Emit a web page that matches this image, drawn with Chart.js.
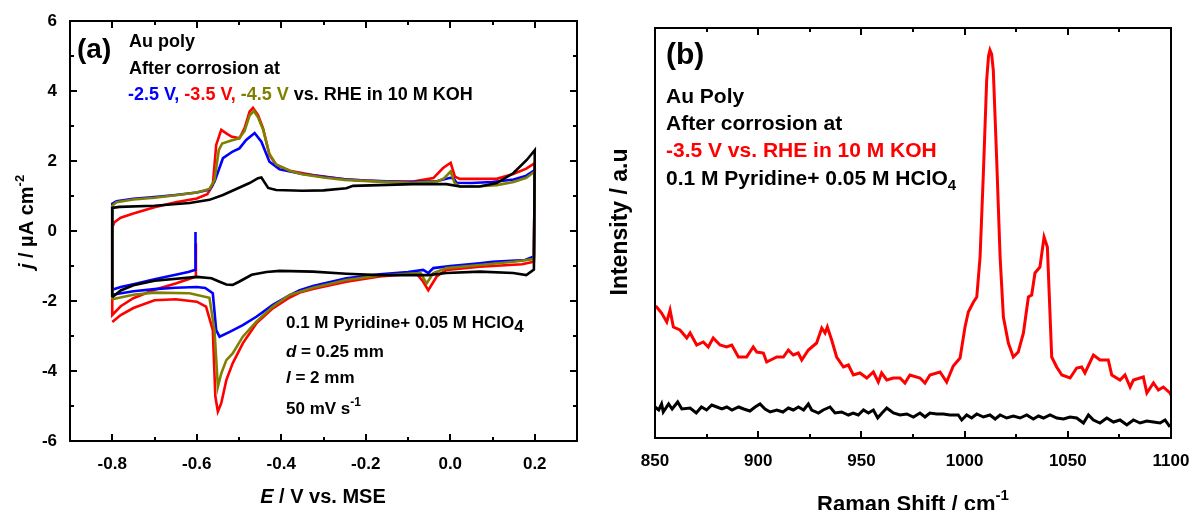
<!DOCTYPE html>
<html lang="en">
<head>
  <meta charset="UTF-8">
  <title>Au poly after corrosion: CV and Raman</title>
  <script src="https://cdn.jsdelivr.net/npm/chart.js"></script>
  <style>
    body { margin: 0; background: #fff; }
    .panel { position: absolute; top: 0; width: 596px; height: 510px; }
    #boxA { left: 0; }
    #boxB { left: 596px; }
  </style>
</head>
<body>
  <div class="panel" id="boxA"><canvas id="cvChart"></canvas></div>
  <div class="panel" id="boxB"><canvas id="ramanChart"></canvas></div>

  <script>
    const FONT = "'Liberation Sans', Arial, Helvetica, sans-serif";

    // (a) cyclic voltammograms, [E / V vs. MSE, j / uA cm-2], in sweep order
    const cvRed = [
      [-0.602, -0.35], [-0.602, -1.3], [-0.62, -1.38], [-0.65, -1.5], [-0.7, -1.68], [-0.75, -1.92], [-0.78, -2.15], [-0.8, -2.4],
      [-0.8, 0.1], [-0.795, 0.25], [-0.78, 0.38], [-0.75, 0.5], [-0.7, 0.68], [-0.65, 0.82], [-0.6, 0.93], [-0.575, 1.05],
      [-0.562, 1.31], [-0.554, 2.46], [-0.542, 2.89], [-0.53, 2.79], [-0.518, 2.7], [-0.499, 2.65], [-0.487, 2.93], [-0.475, 3.41],
      [-0.467, 3.52], [-0.455, 3.31], [-0.443, 2.93], [-0.428, 2.17], [-0.412, 1.89], [-0.38, 1.72], [-0.325, 1.6], [-0.246, 1.47],
      [-0.167, 1.42], [-0.088, 1.41], [-0.04, 1.51], [-0.017, 1.8], [0.001, 1.95], [0.011, 1.55], [0.023, 1.49], [0.11, 1.49],
      [0.149, 1.63], [0.18, 1.78], [0.2, 1.94],
      [0.198, -0.88], [0.17, -0.95], [0.07, -1.02], [-0.009, -1.11], [-0.032, -1.3], [-0.052, -1.69], [-0.064, -1.45], [-0.08, -1.21],
      [-0.167, -1.3], [-0.246, -1.45], [-0.325, -1.66], [-0.356, -1.76], [-0.38, -1.9], [-0.42, -2.21], [-0.459, -2.64], [-0.491, -3.21],
      [-0.515, -3.78], [-0.53, -4.26], [-0.542, -4.92], [-0.55, -5.16], [-0.556, -4.73], [-0.562, -2.83], [-0.578, -2.16], [-0.6, -2.02],
      [-0.65, -1.95], [-0.7, -1.98], [-0.75, -2.2], [-0.78, -2.4], [-0.8, -2.6]
    ];
    const cvBlue = [
      [-0.603, -0.03], [-0.603, -1.11], [-0.62, -1.17], [-0.65, -1.25], [-0.7, -1.38], [-0.75, -1.52], [-0.78, -1.6], [-0.8, -1.68],
      [-0.8, 0.78], [-0.79, 0.85], [-0.75, 0.92], [-0.7, 0.97], [-0.65, 1.03], [-0.6, 1.1], [-0.57, 1.18], [-0.558, 1.41],
      [-0.538, 2.08], [-0.515, 2.27], [-0.499, 2.36], [-0.483, 2.6], [-0.463, 2.8], [-0.447, 2.55], [-0.428, 1.98], [-0.404, 1.76],
      [-0.35, 1.63], [-0.3, 1.55], [-0.25, 1.48], [-0.2, 1.44], [-0.1, 1.4], [-0.03, 1.43], [0.0, 1.52], [0.008, 1.5],
      [0.015, 1.38], [0.05, 1.37], [0.1, 1.4], [0.15, 1.47], [0.18, 1.58], [0.2, 1.74],
      [0.198, -0.73], [0.177, -0.83], [0.1, -0.88], [0.07, -0.92], [0.0, -1.0], [-0.04, -1.06], [-0.052, -1.2], [-0.064, -1.11],
      [-0.1, -1.17], [-0.167, -1.24], [-0.246, -1.35], [-0.325, -1.57], [-0.356, -1.69], [-0.38, -1.83], [-0.42, -2.11], [-0.459, -2.45],
      [-0.491, -2.69], [-0.522, -2.88], [-0.546, -3.02], [-0.554, -2.83], [-0.562, -1.78], [-0.58, -1.63], [-0.6, -1.6], [-0.65, -1.62],
      [-0.7, -1.66], [-0.75, -1.72], [-0.8, -1.82]
    ];
    const cvOlive = [
      [-0.8, -1.95], [-0.8, 0.72], [-0.79, 0.82], [-0.75, 0.9], [-0.7, 0.95], [-0.65, 1.02], [-0.6, 1.1], [-0.57, 1.2],
      [-0.558, 1.45], [-0.548, 2.3], [-0.54, 2.5], [-0.52, 2.58], [-0.5, 2.65], [-0.487, 2.85], [-0.475, 3.3], [-0.465, 3.43],
      [-0.455, 3.25], [-0.443, 2.9], [-0.428, 2.2], [-0.412, 1.9], [-0.38, 1.72], [-0.35, 1.62], [-0.3, 1.53], [-0.25, 1.46],
      [-0.17, 1.41], [-0.09, 1.38], [-0.03, 1.42], [-0.015, 1.5], [0.001, 1.7], [0.01, 1.38], [0.023, 1.27], [0.07, 1.28],
      [0.11, 1.31], [0.15, 1.4], [0.18, 1.52], [0.2, 1.7],
      [0.198, -0.8], [0.15, -0.88], [0.07, -0.97], [-0.009, -1.06], [-0.04, -1.2], [-0.056, -1.5], [-0.07, -1.2], [-0.1, -1.22],
      [-0.167, -1.27], [-0.246, -1.4], [-0.325, -1.62], [-0.38, -1.83], [-0.42, -2.16], [-0.459, -2.59], [-0.491, -3.02], [-0.515, -3.5],
      [-0.53, -3.69], [-0.542, -4.07], [-0.55, -4.45], [-0.558, -2.83], [-0.57, -1.91], [-0.617, -1.78], [-0.7, -1.76], [-0.75, -1.82],
      [-0.8, -1.95]
    ];
    const cvBlack = [
      [-0.8, -1.89], [-0.8, 0.66], [-0.783, 0.69], [-0.7, 0.72], [-0.617, 0.8], [-0.57, 0.89], [-0.538, 1.03], [-0.475, 1.37],
      [-0.455, 1.51], [-0.447, 1.53], [-0.431, 1.23], [-0.412, 1.17], [-0.35, 1.15], [-0.3, 1.16], [-0.246, 1.22], [-0.23, 1.29],
      [-0.088, 1.34], [-0.009, 1.34], [0.023, 1.27], [0.07, 1.27], [0.11, 1.37], [0.149, 1.65], [0.181, 2.03], [0.2, 2.31],
      [0.198, -1.1], [0.18, -1.26], [0.149, -1.2], [0.07, -1.16], [-0.009, -1.2], [-0.052, -1.26], [-0.167, -1.26], [-0.246, -1.22],
      [-0.325, -1.16], [-0.404, -1.14], [-0.435, -1.17], [-0.47, -1.25], [-0.5, -1.45], [-0.515, -1.54], [-0.53, -1.53], [-0.546, -1.45],
      [-0.565, -1.35], [-0.6, -1.31], [-0.7, -1.42], [-0.75, -1.55], [-0.78, -1.7], [-0.8, -1.89]
    ];
    const cvTicksX = [-0.8, -0.6, -0.4, -0.2, 0.0, 0.2];
    const cvMinorX = [-0.7, -0.5, -0.3, -0.1, 0.1];
    const cvTicksY = [-6, -4, -2, 0, 2, 4, 6];
    const cvMinorY = [-5, -3, -1, 1, 3, 5];

    // (b) Raman spectra, [shift / cm-1, intensity / a.u.]
    const ramanRed = [
      [850, 130], [850.8, 131], [853.2, 125], [855.7, 116], [857.3, 128], [858.9, 111], [862.1, 108], [865.4, 100],
      [867, 105], [870.2, 93], [873.4, 96], [875.8, 91], [878.2, 100], [881.5, 93], [884.7, 91], [887.2, 93],
      [890.4, 81], [894.4, 81], [897.6, 91], [899.3, 86], [902.5, 85], [904.1, 76], [909, 81], [912.2, 81],
      [914.6, 88], [917, 83], [919.4, 85], [921.1, 78], [924.3, 88], [928.3, 95], [930.8, 110], [932.4, 105],
      [933.5, 111], [935.6, 98], [938, 81], [941.3, 71], [943.7, 73], [946.1, 63], [949.3, 65], [952.6, 60],
      [955.8, 66], [958.2, 56], [959.8, 65], [962.3, 58], [965.5, 60], [968.7, 60], [971.1, 55], [973.5, 63],
      [978.4, 60], [980.8, 55], [983.2, 63], [988.1, 66], [991.3, 56], [994.5, 72], [997.8, 80], [1000.2, 111],
      [1001.8, 126], [1004.3, 136], [1005.9, 141], [1007.5, 181], [1009.1, 265], [1010.7, 358], [1011.6, 382], [1012.3, 388],
      [1013.1, 384], [1013.9, 368], [1015.5, 281], [1017.2, 181], [1018.8, 121], [1021.2, 95], [1023.6, 81], [1026, 86],
      [1028.5, 105], [1030.9, 141], [1032.5, 143], [1034.1, 165], [1036.5, 171], [1038.5, 201], [1040.1, 191], [1042.2, 81],
      [1044.6, 71], [1047.1, 63], [1051.1, 60], [1054.3, 70], [1056.7, 71], [1058.3, 65], [1062.4, 83], [1065.6, 78],
      [1069.6, 78], [1071.3, 63], [1075.3, 58], [1077.7, 63], [1080.2, 51], [1081.8, 58], [1086.6, 61], [1088.3, 45],
      [1091.5, 55], [1093.9, 48], [1096.3, 51], [1099.5, 45], [1100, 43]
    ];
    const ramanBlack = [
      [850, 31], [851.8, 28], [853.2, 34], [854, 26], [856.6, 34], [858.3, 29], [861, 36], [863, 29],
      [867, 30], [870, 25], [872.5, 31], [875, 28], [877.5, 33], [880, 31], [882.4, 29], [884.8, 31],
      [887.3, 28], [890.5, 31], [893, 29], [896, 27], [898.5, 31], [900.9, 34], [903.3, 29], [905.8, 26],
      [909, 28], [912, 26], [914.6, 30], [917, 28], [919.5, 31], [922, 28], [924.3, 34], [925.9, 28],
      [929.2, 25], [931.5, 28], [934.8, 31], [937.2, 25], [940.4, 26], [943.7, 23], [946, 25], [948.5, 23],
      [951, 28], [953.4, 25], [955.8, 28], [957.9, 20], [960, 25], [962.3, 30], [965.5, 25], [968.7, 23],
      [972, 24], [975.2, 21], [978.4, 25], [980.8, 21], [983.2, 25], [986.5, 24], [989.7, 24], [992.9, 23],
      [996.9, 23], [998.6, 18], [1001, 23], [1003.4, 20], [1005.9, 24], [1009.1, 21], [1012.3, 23], [1014.8, 19],
      [1017.2, 23], [1020.4, 20], [1023.6, 22], [1026.9, 20], [1030.1, 23], [1033.3, 19], [1035.8, 22], [1038.2, 20],
      [1041.4, 23], [1044.7, 20], [1047.9, 19], [1051.1, 21], [1054.3, 20], [1057.6, 15], [1060, 23], [1062.4, 18],
      [1065.6, 15], [1068.9, 20], [1072.1, 16], [1075.3, 18], [1078.6, 13], [1081.8, 18], [1085, 15], [1088.3, 17],
      [1091.5, 16], [1094.7, 15], [1097.1, 18], [1099.5, 11]
    ];
    const ramanTicksX = [850, 900, 950, 1000, 1050, 1100];
    const ramanMinorX = [875, 925, 975, 1025, 1075];

    const toXY = arr => arr.map(p => ({ x: p[0], y: p[1] }));

    // draws consecutive text pieces with their own font / colour / shift
    function drawRuns(ctx, x, y, runs) {
      runs.forEach(r => {
        ctx.font = r.f;
        ctx.fillStyle = r.c || '#000';
        ctx.fillText(r.t, x, y + (r.dy || 0));
        x += ctx.measureText(r.t).width;
      });
    }
    function runsWidth(ctx, runs) {
      let w = 0;
      runs.forEach(r => { ctx.font = r.f; w += ctx.measureText(r.t).width; });
      return w;
    }
    function drawCentered(ctx, cx, y, runs, rotate) {
      ctx.save();
      const w = runsWidth(ctx, runs);
      if (rotate) {
        ctx.translate(cx, y);
        ctx.rotate(-Math.PI / 2);
        drawRuns(ctx, -w / 2, 0, runs);
      } else {
        drawRuns(ctx, cx - w / 2, y, runs);
      }
      ctx.restore();
    }

    // box around the plot with inward ticks on all four sides
    function drawFrame(chart, majX, minX, majY, minY) {
      const { ctx, chartArea: a } = chart;
      const sx = chart.scales.x, sy = chart.scales.y;
      ctx.save();
      ctx.strokeStyle = '#000';
      ctx.lineWidth = 2;
      ctx.beginPath();
      const ticksX = (vals, len) => vals.forEach(v => {
        const p = Math.round(sx.getPixelForValue(v));
        ctx.moveTo(p, a.bottom); ctx.lineTo(p, a.bottom - len);
        ctx.moveTo(p, a.top); ctx.lineTo(p, a.top + len);
      });
      const ticksY = (vals, len) => vals.forEach(v => {
        const p = Math.round(sy.getPixelForValue(v));
        ctx.moveTo(a.left, p); ctx.lineTo(a.left + len, p);
        ctx.moveTo(a.right, p); ctx.lineTo(a.right - len, p);
      });
      ticksX(majX, 7); ticksX(minX, 4);
      ticksY(majY, 7); ticksY(minY, 4);
      ctx.stroke();
      ctx.strokeRect(a.left, a.top, a.right - a.left, a.bottom - a.top);
      ctx.restore();
    }

    const B = s => `bold ${s}px ${FONT}`;
    const BI = s => `italic bold ${s}px ${FONT}`;
    const BLUE = '#0000ff', RED = '#ff0000', OLIVE = '#808000';

    function curve(data, color, width) {
      return {
        data: toXY(data), borderColor: color, backgroundColor: color,
        showLine: true, pointRadius: 0, borderWidth: width, tension: 0
      };
    }

    // keep the plot box where it is: no extra room for edge labels
    const noEdgePadding = s => { s.paddingLeft = 0; s.paddingRight = 0; s.paddingTop = 0; s.paddingBottom = 0; };

    // (a) cyclic voltammetry
    new Chart(document.getElementById('cvChart'), {
      type: 'scatter',
      data: {
        datasets: [curve(cvBlack, '#000', 2.6), curve(cvOlive, OLIVE, 2.6), curve(cvBlue, BLUE, 2.6), curve(cvRed, RED, 2.6)]
      },
      options: {
        responsive: true,
        maintainAspectRatio: false,
        animation: false,
        layout: { padding: { left: 0, top: 21, right: 19, bottom: 0 } },
        plugins: { legend: { display: false }, tooltip: { enabled: false } },
        scales: {
          x: {
            type: 'linear', min: -0.9, max: 0.3,
            grid: { display: false, drawTicks: false }, border: { display: false },
            afterBuildTicks: s => { s.ticks = cvTicksX.map(v => ({ value: v })); },
            afterFit: s => { s.height = 69; noEdgePadding(s); },
            ticks: { padding: 13, color: '#000', font: { family: FONT, size: 17, weight: 'bold' },
                     callback: v => v.toFixed(1) }
          },
          y: {
            type: 'linear', min: -6, max: 6,
            grid: { display: false, drawTicks: false }, border: { display: false },
            afterBuildTicks: s => { s.ticks = cvTicksY.map(v => ({ value: v })); },
            afterFit: s => { s.width = 70; noEdgePadding(s); },
            ticks: { padding: 13, color: '#000', font: { family: FONT, size: 17, weight: 'bold' } }
          }
        }
      },
      plugins: [{
        id: 'cvDecor',
        afterDraw(chart) {
          const ctx = chart.ctx;
          drawFrame(chart, cvTicksX, cvMinorX, cvTicksY, cvMinorY);
          ctx.save();
          ctx.textBaseline = 'alphabetic';
          drawRuns(ctx, 77, 58, [{ t: '(a)', f: B(28) }]);
          drawRuns(ctx, 129, 47, [{ t: 'Au poly', f: B(18) }]);
          drawRuns(ctx, 129, 74, [{ t: 'After corrosion at', f: B(18) }]);
          drawRuns(ctx, 128, 100, [
            { t: '-2.5 V, ', f: B(18), c: BLUE },
            { t: '-3.5 V, ', f: B(18), c: RED },
            { t: '-4.5 V', f: B(18), c: OLIVE },
            { t: ' vs. RHE in 10 M KOH', f: B(18) }
          ]);
          drawRuns(ctx, 286, 328, [{ t: '0.1 M Pyridine+ 0.05 M HClO', f: B(17) }, { t: '4', f: B(17), dy: 4 }]);
          drawRuns(ctx, 286, 357, [{ t: 'd', f: BI(17) }, { t: ' = 0.25 mm', f: B(17) }]);
          drawRuns(ctx, 286, 383, [{ t: 'l', f: BI(17) }, { t: ' = 2 mm', f: B(17) }]);
          drawRuns(ctx, 286, 414, [{ t: '50 mV s', f: B(17) }, { t: '-1', f: B(12), dy: -8 }]);
          drawCentered(ctx, 323, 503, [{ t: 'E', f: BI(20) }, { t: ' / V vs. MSE', f: B(20) }]);
          drawCentered(ctx, 33, 222, [{ t: 'j', f: BI(20) }, { t: ' / \u00b5A cm', f: B(20) }, { t: '-2', f: B(13), dy: -9 }], true);
          ctx.restore();
        }
      }]
    });

    // (b) Raman spectra
    new Chart(document.getElementById('ramanChart'), {
      type: 'scatter',
      data: {
        datasets: [curve(ramanBlack, '#000', 3), curve(ramanRed, RED, 3)]
      },
      options: {
        responsive: true,
        maintainAspectRatio: false,
        animation: false,
        layout: { padding: { left: 59, top: 28, right: 21, bottom: 0 } },
        plugins: { legend: { display: false }, tooltip: { enabled: false } },
        scales: {
          x: {
            type: 'linear', min: 850, max: 1100,
            grid: { display: false, drawTicks: false }, border: { display: false },
            afterBuildTicks: s => { s.ticks = ramanTicksX.map(v => ({ value: v })); },
            afterFit: s => { s.height = 72; noEdgePadding(s); },
            ticks: { padding: 13, color: '#000', font: { family: FONT, size: 17, weight: 'bold' },
                     callback: v => String(v) }
          },
          y: { type: 'linear', min: 0, max: 410, display: false }
        }
      },
      plugins: [{
        id: 'ramanDecor',
        afterDraw(chart) {
          const ctx = chart.ctx;
          drawFrame(chart, ramanTicksX, ramanMinorX, [], []);
          ctx.save();
          ctx.textBaseline = 'alphabetic';
          drawRuns(ctx, 70, 64, [{ t: '(b)', f: B(30) }]);
          drawRuns(ctx, 70, 103, [{ t: 'Au Poly', f: B(21) }]);
          drawRuns(ctx, 70, 130, [{ t: 'After corrosion at', f: B(21) }]);
          drawRuns(ctx, 70, 157, [{ t: '-3.5 V vs. RHE in 10 M KOH', f: B(21), c: RED }]);
          drawRuns(ctx, 70, 185, [{ t: '0.1 M Pyridine+ 0.05 M HClO', f: B(21) }, { t: '4', f: B(15), dy: 5 }]);
          drawCentered(ctx, 317, 511, [{ t: 'Raman Shift / cm', f: B(22) }, { t: '-1', f: B(15), dy: -11 }]);
          drawCentered(ctx, 31, 222, [{ t: 'Intensity / a.u', f: B(23) }], true);
          ctx.restore();
        }
      }]
    });
  </script>
</body>
</html>
